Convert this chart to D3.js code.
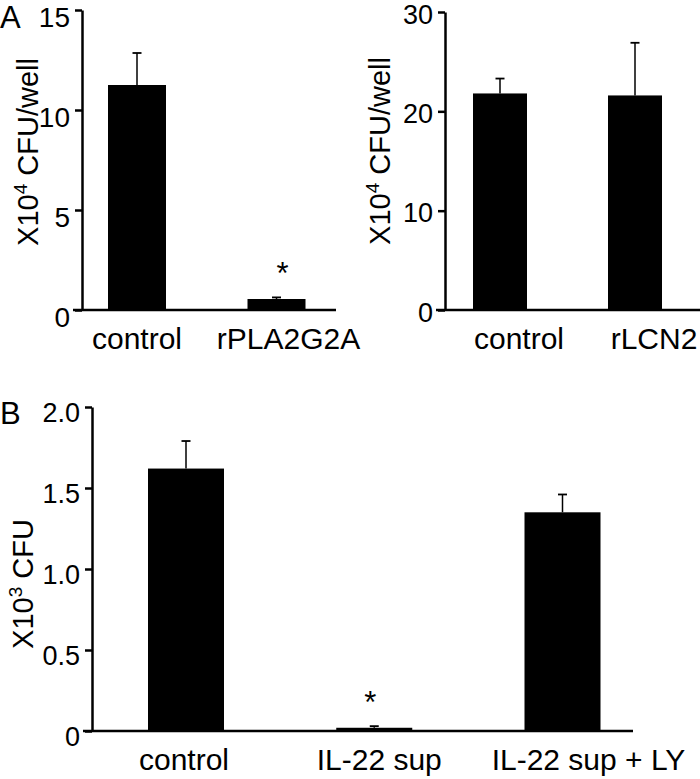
<!DOCTYPE html>
<html>
<head>
<meta charset="utf-8">
<script src="https://cdn.jsdelivr.net/npm/d3@7"></script>
<style>
  html, body { margin: 0; padding: 0; background: #fff; }
  svg { display: block; }
  text { font-family: "Liberation Sans", Arial, Helvetica, sans-serif; fill: #000; }
</style>
</head>
<body>
<svg id="chart" width="700" height="779"></svg>
<script>
// ---- Data ----
const catsA1 = ["control", "rPLA2G2A"];
const valsA1 = [11.25, 0.55];
const errsA1 = [1.6, 0.08];
const sigA1 = [false, true];
const ticksA1 = [0, 5, 10, 15];

const catsA2 = ["control", "rLCN2"];
const valsA2 = [21.8, 21.6];
const errsA2 = [1.5, 5.3];
const sigA2 = [false, false];
const ticksA2 = [0, 10, 20, 30];

const catsB = ["control", "IL-22 sup", "IL-22 sup + LY"];
const valsB = [1.62, 0.02, 1.35];
const errsB = [0.17, 0.01, 0.11];
const sigB = [false, true, false];
const ticksB = [0, 0.5, 1.0, 1.5, 2.0];
const tickLabelsB = ["0", "0.5", "1.0", "1.5", "2.0"];

const yLabelA = { base: "X10", sup: "4", rest: " CFU/well" };
const yLabelB = { base: "X10", sup: "3", rest: " CFU" };

const svg = d3.select("#chart");
svg.append("rect").attr("width", 700).attr("height", 779).attr("fill", "#fff");

function panel(o) {
  const g = svg.append("g");
  const y = d3.scaleLinear().domain(o.domain).range(o.yRange);
  const x = d3.scalePoint().domain(o.cats).range(o.xRange);

  // y axis
  const axis = d3.axisLeft(y).tickValues(o.ticks).tickSizeInner(7).tickSizeOuter(0).tickPadding(5)
    .tickFormat((d, i) => o.tickLabels ? o.tickLabels[i] : String(d));
  const ag = g.append("g").attr("transform", `translate(${o.axisX},0)`).call(axis);
  ag.select(".domain").attr("stroke", "#000").attr("stroke-width", 2.5);
  ag.selectAll(".tick line").attr("stroke", "#000").attr("stroke-width", 2.5);
  ag.selectAll(".tick text").attr("font-size", o.tickFont).attr("dy", null).attr("y", o.tickDy)
    .attr("font-family", '"Liberation Sans", Arial, sans-serif').attr("fill", "#000");

  // bars
  g.selectAll("rect.bar").data(o.vals).enter().append("rect")
    .attr("class", "bar")
    .attr("x", (d, i) => x(o.cats[i]) - o.barW / 2)
    .attr("width", o.barW)
    .attr("y", d => y(d))
    .attr("height", d => y(0) - y(d))
    .attr("fill", "#000");

  // error bars (upper only)
  o.vals.forEach((v, i) => {
    const cx = x(o.cats[i]);
    const top = y(v + o.errs[i]);
    g.append("line").attr("x1", cx).attr("x2", cx).attr("y1", y(v)).attr("y2", top)
      .attr("stroke", "#000").attr("stroke-width", 1.5);
    g.append("line").attr("x1", cx - 4.5).attr("x2", cx + 4.5).attr("y1", top).attr("y2", top)
      .attr("stroke", "#000").attr("stroke-width", 1.8);
    if (o.sig[i]) {
      g.append("text").attr("x", cx + o.starDx).attr("y", top - 13).attr("text-anchor", "middle")
        .attr("font-size", 31).text("*");
    }
  });

  // baseline
  g.append("line").attr("x1", o.axisX - 9).attr("x2", o.baseEnd)
    .attr("y1", y(0)).attr("y2", y(0)).attr("stroke", "#000").attr("stroke-width", 2.5);

  // x labels
  o.cats.forEach((c, i) => {
    g.append("text").attr("x", x(c) + (o.labelDx[i] || 0)).attr("y", o.labelY)
      .attr("text-anchor", "middle").attr("font-size", 30).text(c);
  });

  // y label
  const t = g.append("text")
    .attr("transform", `translate(${o.yLabX},${o.yLabY}) rotate(-90)`)
    .attr("text-anchor", "middle").attr("font-size", 29);
  t.append("tspan").text(o.yLab.base);
  t.append("tspan").attr("font-size", 19).attr("dy", -11).text(o.yLab.sup);
  t.append("tspan").attr("dy", 11).text(o.yLab.rest);
}

panel({
  cats: catsA1, vals: valsA1, errs: errsA1, sig: sigA1, ticks: ticksA1,
  domain: [0, 15], yRange: [310, 10], xRange: [137, 276.5], barW: 58,
  axisX: 82, baseEnd: 336, tickFont: 28, tickDy: 16, labelY: 349, labelDx: [0, 12], starDx: 6,
  yLab: yLabelA, yLabX: 38, yLabY: 152
});

panel({
  cats: catsA2, vals: valsA2, errs: errsA2, sig: sigA2, ticks: ticksA2,
  domain: [0, 30], yRange: [310, 12], xRange: [500, 635], barW: 54,
  axisX: 445, baseEnd: 700, tickFont: 27, tickDy: 11, labelY: 349, labelDx: [19, 19], starDx: 0,
  yLab: yLabelA, yLabX: 390, yLabY: 151
});

panel({
  cats: catsB, vals: valsB, errs: errsB, sig: sigB, ticks: ticksB, tickLabels: tickLabelsB,
  domain: [0, 2.0], yRange: [731, 407], xRange: [186, 562.5], barW: 76,
  axisX: 92, baseEnd: 633, tickFont: 27, tickDy: 14, labelY: 770, labelDx: [-2, 5, 26], starDx: -4,
  yLab: yLabelB, yLabX: 33, yLabY: 584
});

// panel letters
svg.append("text").attr("x", 0).attr("y", 28).attr("font-size", 31).text("A");
svg.append("text").attr("x", 0).attr("y", 424).attr("font-size", 31).text("B");
</script>
</body>
</html>
